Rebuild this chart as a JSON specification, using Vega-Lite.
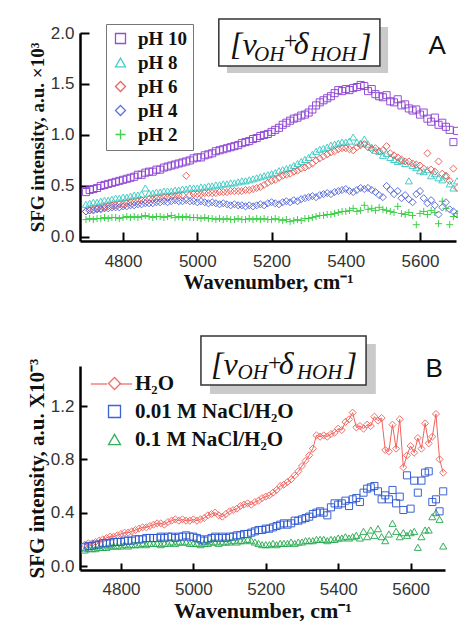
{
  "$schema": "https://vega.github.io/schema/vega-lite/v6.json",
  "padding": {"left": 26, "top": 18, "right": 0, "bottom": 0},
  "background": "white",
  "spacing": 43,
  "datasets": {
    "A": [
      {"x":4700,"a":0.44,"b":0.32,"c":0.25,"d":0.25,"e":0.17},
      {"x":4710,"a":0.46,"b":0.33,"c":0.26,"d":0.26,"e":0.18},
      {"x":4720,"a":0.47,"b":0.34,"c":0.27,"d":0.26,"e":0.17},
      {"x":4730,"a":0.48,"b":0.34,"c":0.28,"d":0.27,"e":0.18},
      {"x":4740,"a":0.50,"b":0.35,"c":0.28,"d":0.27,"e":0.18},
      {"x":4750,"a":0.51,"b":0.36,"c":0.29,"d":0.28,"e":0.19},
      {"x":4760,"a":0.52,"b":0.36,"c":0.30,"d":0.28,"e":0.18},
      {"x":4770,"a":0.53,"b":0.37,"c":0.31,"d":0.29,"e":0.19},
      {"x":4780,"a":0.54,"b":0.38,"c":0.31,"d":0.29,"e":0.19},
      {"x":4790,"a":0.55,"b":0.38,"c":0.32,"d":0.29,"e":0.18},
      {"x":4800,"a":0.56,"b":0.39,"c":0.32,"d":0.30,"e":0.19},
      {"x":4810,"a":0.57,"b":0.39,"c":0.33,"d":0.30,"e":0.20},
      {"x":4820,"a":0.58,"b":0.40,"c":0.34,"d":0.31,"e":0.19},
      {"x":4830,"a":0.59,"b":0.41,"c":0.34,"d":0.31,"e":0.20},
      {"x":4840,"a":0.61,"b":0.41,"c":0.35,"d":0.32,"e":0.19},
      {"x":4850,"a":0.61,"b":0.42,"c":0.36,"d":0.32,"e":0.20},
      {"x":4860,"a":0.63,"b":0.48,"c":0.36,"d":0.33,"e":0.21},
      {"x":4870,"a":0.64,"b":0.43,"c":0.37,"d":0.33,"e":0.20},
      {"x":4880,"a":0.64,"b":0.43,"c":0.37,"d":0.33,"e":0.19},
      {"x":4890,"a":0.66,"b":0.44,"c":0.38,"d":0.34,"e":0.20},
      {"x":4900,"a":0.66,"b":0.44,"c":0.38,"d":0.34,"e":0.20},
      {"x":4910,"a":0.68,"b":0.45,"c":0.39,"d":0.35,"e":0.19},
      {"x":4920,"a":0.69,"b":0.45,"c":0.39,"d":0.34,"e":0.20},
      {"x":4930,"a":0.70,"b":0.45,"c":0.40,"d":0.35,"e":0.21},
      {"x":4940,"a":0.71,"b":0.46,"c":0.40,"d":0.36,"e":0.19},
      {"x":4950,"a":0.72,"b":0.46,"c":0.41,"d":0.35,"e":0.20},
      {"x":4960,"a":0.73,"b":0.47,"c":0.41,"d":0.35,"e":0.19},
      {"x":4970,"a":0.74,"b":0.47,"c":0.60,"d":0.36,"e":0.20},
      {"x":4980,"a":0.75,"b":0.48,"c":0.41,"d":0.35,"e":0.19},
      {"x":4990,"a":0.77,"b":0.48,"c":0.42,"d":0.35,"e":0.19},
      {"x":5000,"a":0.78,"b":0.48,"c":0.42,"d":0.34,"e":0.19},
      {"x":5010,"a":0.78,"b":0.49,"c":0.42,"d":0.35,"e":0.18},
      {"x":5020,"a":0.80,"b":0.49,"c":0.43,"d":0.34,"e":0.19},
      {"x":5030,"a":0.81,"b":0.50,"c":0.43,"d":0.33,"e":0.18},
      {"x":5040,"a":0.82,"b":0.50,"c":0.43,"d":0.34,"e":0.18},
      {"x":5050,"a":0.84,"b":0.51,"c":0.43,"d":0.33,"e":0.17},
      {"x":5060,"a":0.85,"b":0.51,"c":0.44,"d":0.32,"e":0.18},
      {"x":5070,"a":0.86,"b":0.52,"c":0.44,"d":0.33,"e":0.17},
      {"x":5080,"a":0.87,"b":0.52,"c":0.44,"d":0.32,"e":0.18},
      {"x":5090,"a":0.88,"b":0.53,"c":0.45,"d":0.31,"e":0.17},
      {"x":5100,"a":0.89,"b":0.53,"c":0.45,"d":0.32,"e":0.17},
      {"x":5110,"a":0.90,"b":0.54,"c":0.45,"d":0.31,"e":0.18},
      {"x":5120,"a":0.92,"b":0.55,"c":0.45,"d":0.31,"e":0.17},
      {"x":5130,"a":0.93,"b":0.55,"c":0.46,"d":0.30,"e":0.17},
      {"x":5140,"a":0.94,"b":0.56,"c":0.46,"d":0.31,"e":0.18},
      {"x":5150,"a":0.96,"b":0.57,"c":0.47,"d":0.30,"e":0.17},
      {"x":5160,"a":0.97,"b":0.58,"c":0.48,"d":0.31,"e":0.18},
      {"x":5170,"a":0.99,"b":0.59,"c":0.49,"d":0.32,"e":0.17},
      {"x":5180,"a":1.00,"b":0.60,"c":0.51,"d":0.31,"e":0.18},
      {"x":5190,"a":1.01,"b":0.61,"c":0.53,"d":0.33,"e":0.17},
      {"x":5200,"a":1.03,"b":0.62,"c":0.55,"d":0.34,"e":0.17},
      {"x":5210,"a":1.05,"b":0.63,"c":0.56,"d":0.33,"e":0.18},
      {"x":5220,"a":1.07,"b":0.65,"c":0.58,"d":0.32,"e":0.17},
      {"x":5230,"a":1.10,"b":0.66,"c":0.60,"d":0.34,"e":0.16},
      {"x":5240,"a":1.12,"b":0.67,"c":0.61,"d":0.35,"e":0.17},
      {"x":5250,"a":1.14,"b":0.68,"c":0.62,"d":0.34,"e":0.15},
      {"x":5260,"a":1.16,"b":0.70,"c":0.64,"d":0.36,"e":0.16},
      {"x":5270,"a":1.17,"b":0.72,"c":0.65,"d":0.35,"e":0.17},
      {"x":5280,"a":1.19,"b":0.74,"c":0.67,"d":0.37,"e":0.16},
      {"x":5290,"a":1.20,"b":0.76,"c":0.68,"d":0.38,"e":0.18},
      {"x":5300,"a":1.22,"b":0.78,"c":0.70,"d":0.39,"e":0.18},
      {"x":5310,"a":1.25,"b":0.81,"c":0.72,"d":0.40,"e":0.19},
      {"x":5320,"a":1.29,"b":0.84,"c":0.75,"d":0.39,"e":0.20},
      {"x":5330,"a":1.32,"b":0.86,"c":0.77,"d":0.41,"e":0.21},
      {"x":5340,"a":1.34,"b":0.87,"c":0.79,"d":0.42,"e":0.21},
      {"x":5350,"a":1.36,"b":0.88,"c":0.81,"d":0.43,"e":0.22},
      {"x":5360,"a":1.38,"b":0.90,"c":0.83,"d":0.42,"e":0.22},
      {"x":5370,"a":1.41,"b":0.91,"c":0.84,"d":0.44,"e":0.23},
      {"x":5380,"a":1.44,"b":0.92,"c":0.86,"d":0.45,"e":0.24},
      {"x":5390,"a":1.43,"b":0.93,"c":0.87,"d":0.46,"e":0.25},
      {"x":5400,"a":1.45,"b":0.93,"c":0.87,"d":0.47,"e":0.25},
      {"x":5410,"a":1.44,"b":0.94,"c":0.86,"d":0.45,"e":0.26},
      {"x":5420,"a":1.46,"b":0.98,"c":0.85,"d":0.44,"e":0.28},
      {"x":5430,"a":1.47,"b":0.93,"c":0.88,"d":0.46,"e":0.25},
      {"x":5440,"a":1.49,"b":0.92,"c":0.90,"d":0.48,"e":0.26},
      {"x":5450,"a":1.48,"b":0.96,"c":0.91,"d":0.47,"e":0.31},
      {"x":5460,"a":1.43,"b":0.91,"c":0.88,"d":0.48,"e":0.27},
      {"x":5470,"a":1.45,"b":0.88,"c":0.86,"d":0.46,"e":0.28},
      {"x":5480,"a":1.40,"b":0.85,"c":0.87,"d":0.44,"e":0.26},
      {"x":5490,"a":1.38,"b":0.84,"c":0.84,"d":0.41,"e":0.29},
      {"x":5500,"a":1.37,"b":0.80,"c":0.85,"d":0.39,"e":0.27},
      {"x":5510,"a":1.39,"b":0.82,"c":0.89,"d":0.50,"e":0.26},
      {"x":5520,"a":1.33,"b":0.78,"c":0.82,"d":0.46,"e":0.25},
      {"x":5530,"a":1.32,"b":0.76,"c":0.80,"d":0.42,"e":0.24},
      {"x":5540,"a":1.35,"b":0.74,"c":0.78,"d":0.45,"e":0.30},
      {"x":5550,"a":1.29,"b":0.75,"c":0.76,"d":0.38,"e":0.23},
      {"x":5560,"a":1.30,"b":0.72,"c":0.74,"d":0.41,"e":0.22},
      {"x":5570,"a":1.26,"b":0.55,"c":0.74,"d":0.37,"e":0.24},
      {"x":5580,"a":1.24,"b":0.70,"c":0.72,"d":0.34,"e":0.21},
      {"x":5590,"a":1.25,"b":0.68,"c":0.71,"d":0.42,"e":0.12},
      {"x":5600,"a":1.20,"b":0.65,"c":0.70,"d":0.45,"e":0.23},
      {"x":5610,"a":1.22,"b":0.64,"c":0.67,"d":0.38,"e":0.25},
      {"x":5620,"a":1.16,"b":0.66,"c":0.82,"d":0.33,"e":0.22},
      {"x":5630,"a":1.13,"b":0.60,"c":0.66,"d":0.36,"e":0.26},
      {"x":5640,"a":1.17,"b":0.62,"c":0.64,"d":0.31,"e":0.24},
      {"x":5650,"a":1.10,"b":0.58,"c":0.74,"d":0.22,"e":0.13},
      {"x":5660,"a":1.12,"b":0.56,"c":0.62,"d":0.29,"e":0.35},
      {"x":5670,"a":1.08,"b":0.60,"c":0.60,"d":0.34,"e":0.28},
      {"x":5680,"a":1.05,"b":0.52,"c":0.55,"d":0.27,"e":0.12},
      {"x":5690,"a":0.93,"b":0.48,"c":0.67,"d":0.25,"e":0.20},
      {"x":5700,"a":1.04,"b":0.55,"c":0.48,"d":0.22,"e":0.23}
    ],
    "B": [
      {"x":4700,"w":0.16,"a":0.14,"b":0.12},
      {"x":4710,"w":0.17,"a":0.15,"b":0.13},
      {"x":4720,"w":0.17,"a":0.15,"b":0.13},
      {"x":4730,"w":0.18,"a":0.16,"b":0.13},
      {"x":4740,"w":0.19,"a":0.16,"b":0.14},
      {"x":4750,"w":0.20,"a":0.17,"b":0.14},
      {"x":4760,"w":0.21,"a":0.17,"b":0.14},
      {"x":4770,"w":0.22,"a":0.17,"b":0.15},
      {"x":4780,"w":0.22,"a":0.18,"b":0.15},
      {"x":4790,"w":0.23,"a":0.18,"b":0.15},
      {"x":4800,"w":0.24,"a":0.18,"b":0.15},
      {"x":4810,"w":0.25,"a":0.19,"b":0.16},
      {"x":4820,"w":0.25,"a":0.19,"b":0.15},
      {"x":4830,"w":0.26,"a":0.19,"b":0.16},
      {"x":4840,"w":0.27,"a":0.20,"b":0.16},
      {"x":4850,"w":0.28,"a":0.20,"b":0.16},
      {"x":4860,"w":0.29,"a":0.20,"b":0.17},
      {"x":4870,"w":0.29,"a":0.21,"b":0.16},
      {"x":4880,"w":0.30,"a":0.21,"b":0.17},
      {"x":4890,"w":0.31,"a":0.21,"b":0.17},
      {"x":4900,"w":0.32,"a":0.21,"b":0.17},
      {"x":4910,"w":0.32,"a":0.22,"b":0.16},
      {"x":4920,"w":0.31,"a":0.21,"b":0.17},
      {"x":4930,"w":0.33,"a":0.22,"b":0.17},
      {"x":4940,"w":0.34,"a":0.22,"b":0.18},
      {"x":4950,"w":0.35,"a":0.21,"b":0.17},
      {"x":4960,"w":0.34,"a":0.22,"b":0.18},
      {"x":4970,"w":0.35,"a":0.22,"b":0.18},
      {"x":4980,"w":0.34,"a":0.23,"b":0.18},
      {"x":4990,"w":0.34,"a":0.22,"b":0.17},
      {"x":5000,"w":0.35,"a":0.22,"b":0.17},
      {"x":5010,"w":0.34,"a":0.21,"b":0.17},
      {"x":5020,"w":0.35,"a":0.20,"b":0.16},
      {"x":5030,"w":0.36,"a":0.19,"b":0.17},
      {"x":5040,"w":0.38,"a":0.20,"b":0.17},
      {"x":5050,"w":0.39,"a":0.21,"b":0.18},
      {"x":5060,"w":0.40,"a":0.22,"b":0.18},
      {"x":5070,"w":0.38,"a":0.21,"b":0.17},
      {"x":5080,"w":0.37,"a":0.22,"b":0.18},
      {"x":5090,"w":0.39,"a":0.21,"b":0.18},
      {"x":5100,"w":0.41,"a":0.22,"b":0.18},
      {"x":5110,"w":0.42,"a":0.22,"b":0.19},
      {"x":5120,"w":0.43,"a":0.23,"b":0.18},
      {"x":5130,"w":0.45,"a":0.23,"b":0.19},
      {"x":5140,"w":0.46,"a":0.24,"b":0.19},
      {"x":5150,"w":0.47,"a":0.24,"b":0.20},
      {"x":5160,"w":0.46,"a":0.25,"b":0.19},
      {"x":5170,"w":0.48,"a":0.26,"b":0.18},
      {"x":5180,"w":0.49,"a":0.27,"b":0.17},
      {"x":5190,"w":0.51,"a":0.27,"b":0.16},
      {"x":5200,"w":0.52,"a":0.28,"b":0.16},
      {"x":5210,"w":0.53,"a":0.28,"b":0.16},
      {"x":5220,"w":0.55,"a":0.29,"b":0.17},
      {"x":5230,"w":0.57,"a":0.30,"b":0.16},
      {"x":5240,"w":0.60,"a":0.31,"b":0.17},
      {"x":5250,"w":0.61,"a":0.32,"b":0.17},
      {"x":5260,"w":0.63,"a":0.31,"b":0.17},
      {"x":5270,"w":0.65,"a":0.32,"b":0.18},
      {"x":5280,"w":0.68,"a":0.34,"b":0.17},
      {"x":5290,"w":0.71,"a":0.34,"b":0.18},
      {"x":5300,"w":0.75,"a":0.35,"b":0.18},
      {"x":5310,"w":0.79,"a":0.36,"b":0.19},
      {"x":5320,"w":0.83,"a":0.37,"b":0.19},
      {"x":5330,"w":0.88,"a":0.39,"b":0.19},
      {"x":5340,"w":0.98,"a":0.40,"b":0.20},
      {"x":5350,"w":0.97,"a":0.41,"b":0.20},
      {"x":5360,"w":0.98,"a":0.40,"b":0.20},
      {"x":5370,"w":0.97,"a":0.38,"b":0.19},
      {"x":5380,"w":0.99,"a":0.44,"b":0.20},
      {"x":5390,"w":1.00,"a":0.47,"b":0.20},
      {"x":5400,"w":1.03,"a":0.46,"b":0.21},
      {"x":5410,"w":1.02,"a":0.47,"b":0.21},
      {"x":5420,"w":1.08,"a":0.49,"b":0.22},
      {"x":5430,"w":1.10,"a":0.45,"b":0.21},
      {"x":5440,"w":1.15,"a":0.50,"b":0.22},
      {"x":5450,"w":1.04,"a":0.51,"b":0.23},
      {"x":5460,"w":1.05,"a":0.48,"b":0.21},
      {"x":5470,"w":1.03,"a":0.55,"b":0.26},
      {"x":5480,"w":1.06,"a":0.58,"b":0.22},
      {"x":5490,"w":1.05,"a":0.59,"b":0.27},
      {"x":5500,"w":1.12,"a":0.60,"b":0.23},
      {"x":5510,"w":1.09,"a":0.56,"b":0.28},
      {"x":5520,"w":1.11,"a":0.50,"b":0.22},
      {"x":5530,"w":0.87,"a":0.53,"b":0.19},
      {"x":5540,"w":0.86,"a":0.50,"b":0.24},
      {"x":5550,"w":1.06,"a":0.57,"b":0.32},
      {"x":5560,"w":0.88,"a":0.47,"b":0.26},
      {"x":5570,"w":1.10,"a":0.52,"b":0.22},
      {"x":5580,"w":0.74,"a":0.42,"b":0.25},
      {"x":5590,"w":0.83,"a":0.68,"b":0.23},
      {"x":5600,"w":0.90,"a":0.43,"b":0.25},
      {"x":5610,"w":0.85,"a":0.64,"b":0.26},
      {"x":5620,"w":0.96,"a":0.55,"b":0.14},
      {"x":5630,"w":0.88,"a":0.64,"b":0.22},
      {"x":5640,"w":1.07,"a":0.70,"b":0.27},
      {"x":5650,"w":0.92,"a":0.71,"b":0.27},
      {"x":5660,"w":0.97,"a":0.48,"b":0.37},
      {"x":5670,"w":1.14,"a":0.50,"b":0.40},
      {"x":5680,"w":0.80,"a":0.41,"b":0.35},
      {"x":5690,"w":0.70,"a":0.56,"b":0.15}
    ]
  },
  "vconcat": [
    {
      "width": 376,
      "height": 208,
      "layer": [
        {
          "data": {"name": "A"},
          "transform": [{"fold": ["a", "b", "c", "d", "e"], "as": ["s", "y"]}],
          "mark": {"type": "point", "filled": false, "strokeWidth": 1, "size": 50, "opacity": 0.9},
          "encoding": {
            "x": {"field": "x", "type": "quantitative",
              "scale": {"domain": [4684, 5697], "nice": false, "zero": false},
              "axis": {"values": [4800, 5000, 5200, 5400, 5600], "format": "d", "tickSize": -9, "labelPadding": 21, "title": "Wavenumber, cm⁻¹", "titleFontSize": 21, "titlePadding": 2}},
            "y": {"field": "y", "type": "quantitative",
              "scale": {"domain": [-0.04, 2.0], "nice": false, "zero": false},
              "axis": {"values": [0, 0.5, 1, 1.5, 2], "format": ".1f", "tickSize": -9, "labelPadding": 15, "title": "SFG intensity, a.u. ×10³", "titleFontSize": 19, "titlePadding": 3}},
            "color": {"field": "s", "type": "nominal",
              "scale": {"domain": ["a", "b", "c", "d", "e"], "range": ["#8a3dd2", "#33c9c3", "#e8544e", "#4d62dc", "#2ecb3a"]},
              "legend": {"orient": "none", "legendX": 26, "legendY": -9, "title": null, "labelExpr": "datum.label=='a'?'pH 10':datum.label=='b'?'pH 8':datum.label=='c'?'pH 6':datum.label=='d'?'pH 4':'pH 2'", "labelFont": "Liberation Serif", "labelFontWeight": "bold", "labelFontSize": 19, "labelColor": "#111", "symbolSize": 100, "symbolStrokeWidth": 1.3, "rowPadding": 4, "labelOffset": 8, "padding": 5, "strokeColor": "#777", "fillColor": "white"}},
            "shape": {"field": "s", "type": "nominal",
              "scale": {"domain": ["a", "b", "c", "d", "e"], "range": ["square", "triangle-up", "diamond", "diamond", "M-1,0H1M0,-1V1"]},
              "legend": {"orient": "none", "legendX": 26, "legendY": -9, "title": null, "labelExpr": "datum.label=='a'?'pH 10':datum.label=='b'?'pH 8':datum.label=='c'?'pH 6':datum.label=='d'?'pH 4':'pH 2'", "labelFont": "Liberation Serif", "labelFontWeight": "bold", "labelFontSize": 19, "labelColor": "#111", "symbolSize": 100, "symbolStrokeWidth": 1.3, "rowPadding": 4, "labelOffset": 8, "padding": 5, "strokeColor": "#777", "fillColor": "white"}}
          }
        },
        {
          "data": {"values": [{}]},
          "mark": {"type": "rect", "fill": "#bdbdbd", "opacity": 0.8},
          "encoding": {"x": {"datum": 5080}, "x2": {"datum": 5514}, "y": {"datum": 2.059}, "y2": {"datum": 1.608}}
        },
        {
          "data": {"values": [{}]},
          "mark": {"type": "rect", "fill": "white", "stroke": "#333", "strokeWidth": 1.5},
          "encoding": {"x": {"datum": 5058}, "x2": {"datum": 5492}, "y": {"datum": 2.137}, "y2": {"datum": 1.676}}
        },
        {
          "data": {"values": [{}]},
          "mark": {"type": "text", "text": "[ν", "font": "Liberation Serif", "fontStyle": "italic", "fontSize": 32, "align": "left", "baseline": "alphabetic", "color": "#111"},
          "encoding": {"x": {"datum": 5088}, "y": {"datum": 1.784}}
        },
        {
          "data": {"values": [{}]},
          "mark": {"type": "text", "text": "OH", "font": "Liberation Serif", "fontStyle": "italic", "fontSize": 21, "align": "left", "baseline": "alphabetic", "color": "#111"},
          "encoding": {"x": {"datum": 5153}, "y": {"datum": 1.725}}
        },
        {
          "data": {"values": [{}]},
          "mark": {"type": "text", "text": "+", "font": "Liberation Serif", "fontSize": 24, "align": "left", "baseline": "alphabetic", "color": "#111"},
          "encoding": {"x": {"datum": 5233}, "y": {"datum": 1.855}}
        },
        {
          "data": {"values": [{}]},
          "mark": {"type": "text", "text": "δ", "font": "Liberation Serif", "fontStyle": "italic", "fontSize": 32, "align": "left", "baseline": "alphabetic", "color": "#111"},
          "encoding": {"x": {"datum": 5260}, "y": {"datum": 1.794}}
        },
        {
          "data": {"values": [{}]},
          "mark": {"type": "text", "text": "HOH", "font": "Liberation Serif", "fontStyle": "italic", "fontSize": 21, "align": "left", "baseline": "alphabetic", "color": "#111"},
          "encoding": {"x": {"datum": 5306}, "y": {"datum": 1.725}}
        },
        {
          "data": {"values": [{}]},
          "mark": {"type": "text", "text": "]", "font": "Liberation Serif", "fontStyle": "italic", "fontSize": 32, "align": "left", "baseline": "alphabetic", "color": "#111"},
          "encoding": {"x": {"datum": 5436}, "y": {"datum": 1.774}}
        },
        {
          "data": {"values": [{}]},
          "mark": {"type": "text", "text": "A", "font": "Liberation Sans", "fontSize": 26, "align": "center", "baseline": "alphabetic", "color": "#111"},
          "encoding": {"x": {"datum": 5646}, "y": {"datum": 1.794}}
        }
      ]
    },
    {
      "width": 365,
      "height": 204,
      "layer": [
        {
          "data": {"name": "B"},
          "mark": {"type": "line", "color": "#f2615b", "strokeWidth": 1},
          "encoding": {
            "x": {"field": "x", "type": "quantitative"},
            "y": {"field": "w", "type": "quantitative"}
          }
        },
        {
          "data": {"values": [{}]},
          "mark": {"type": "rule", "color": "#f2615b", "strokeWidth": 1.2},
          "encoding": {"x": {"datum": 4717}, "x2": {"datum": 4762}, "y": {"datum": 1.365}}
        },
        {
          "data": {"values": [{}]},
          "mark": {"type": "rule", "color": "#f2615b", "strokeWidth": 1.2},
          "encoding": {"x": {"datum": 4795}, "x2": {"datum": 4831}, "y": {"datum": 1.365}}
        },
        {
          "data": {"name": "B"},
          "transform": [{"fold": ["w", "a", "b"], "as": ["s", "y"]}],
          "mark": {"type": "point", "filled": false, "strokeWidth": 1, "size": 50, "opacity": 0.9},
          "encoding": {
            "x": {"field": "x", "type": "quantitative",
              "scale": {"domain": [4687, 5695], "nice": false, "zero": false},
              "axis": {"values": [4800, 5000, 5200, 5400, 5600], "format": "d", "tickSize": -7, "labelPadding": 18, "title": "Wavenumber, cm⁻¹", "titleFontSize": 22, "titlePadding": 3}},
            "y": {"field": "y", "type": "quantitative",
              "scale": {"domain": [-0.03, 1.5], "nice": false, "zero": false},
              "axis": {"values": [0, 0.2, 0.4, 0.6, 0.8, 1.0, 1.2, 1.4], "labelExpr": "round(datum.value*10) % 4 == 0 ? format(datum.value, '.1f') : ''", "tickSize": {"condition": {"test": "round(datum.value*10) % 4 == 0", "value": -7}, "value": -4}, "labelPadding": 13, "title": "SFG intensity, a.u. X10⁻³", "titleFontSize": 21, "titlePadding": 3}},
            "color": {"field": "s", "type": "nominal",
              "scale": {"domain": ["w", "a", "b"], "range": ["#f2615b", "#2853cf", "#1fa84a"]},
              "legend": {"orient": "none", "legendX": 24, "legendY": 7, "title": null, "labelExpr": "datum.label=='w'?'H₂O':datum.label=='a'?'0.01 M NaCl/H₂O':'0.1 M NaCl/H₂O'", "labelFont": "Liberation Serif", "labelFontWeight": "bold", "labelFontSize": 21, "labelColor": "#111", "symbolSize": 144, "symbolStrokeWidth": 1.3, "rowPadding": 6, "labelOffset": 10, "padding": 0}},
            "shape": {"field": "s", "type": "nominal",
              "scale": {"domain": ["w", "a", "b"], "range": ["diamond", "square", "triangle-up"]},
              "legend": {"orient": "none", "legendX": 24, "legendY": 7, "title": null, "labelExpr": "datum.label=='w'?'H₂O':datum.label=='a'?'0.01 M NaCl/H₂O':'0.1 M NaCl/H₂O'", "labelFont": "Liberation Serif", "labelFontWeight": "bold", "labelFontSize": 21, "labelColor": "#111", "symbolSize": 144, "symbolStrokeWidth": 1.3, "rowPadding": 6, "labelOffset": 10, "padding": 0}}
          }
        },
        {
          "data": {"values": [{}]},
          "mark": {"type": "rect", "fill": "#bdbdbd", "opacity": 0.8},
          "encoding": {"x": {"datum": 5046}, "x2": {"datum": 5504}, "y": {"datum": 1.665}, "y2": {"datum": 1.29}}
        },
        {
          "data": {"values": [{}]},
          "mark": {"type": "rect", "fill": "white", "stroke": "#333", "strokeWidth": 1.5},
          "encoding": {"x": {"datum": 5021}, "x2": {"datum": 5477}, "y": {"datum": 1.725}, "y2": {"datum": 1.3575}}
        },
        {
          "data": {"values": [{}]},
          "mark": {"type": "text", "text": "[ν", "font": "Liberation Serif", "fontStyle": "italic", "fontSize": 32, "align": "left", "baseline": "alphabetic", "color": "#111"},
          "encoding": {"x": {"datum": 5049}, "y": {"datum": 1.4325}}
        },
        {
          "data": {"values": [{}]},
          "mark": {"type": "text", "text": "OH", "font": "Liberation Serif", "fontStyle": "italic", "fontSize": 21, "align": "left", "baseline": "alphabetic", "color": "#111"},
          "encoding": {"x": {"datum": 5122}, "y": {"datum": 1.4025}}
        },
        {
          "data": {"values": [{}]},
          "mark": {"type": "text", "text": "+", "font": "Liberation Serif", "fontSize": 24, "align": "left", "baseline": "alphabetic", "color": "#111"},
          "encoding": {"x": {"datum": 5206}, "y": {"datum": 1.47}}
        },
        {
          "data": {"values": [{}]},
          "mark": {"type": "text", "text": "δ", "font": "Liberation Serif", "fontStyle": "italic", "fontSize": 32, "align": "left", "baseline": "alphabetic", "color": "#111"},
          "encoding": {"x": {"datum": 5236}, "y": {"datum": 1.44}}
        },
        {
          "data": {"values": [{}]},
          "mark": {"type": "text", "text": "HOH", "font": "Liberation Serif", "fontStyle": "italic", "fontSize": 21, "align": "left", "baseline": "alphabetic", "color": "#111"},
          "encoding": {"x": {"datum": 5286}, "y": {"datum": 1.4025}}
        },
        {
          "data": {"values": [{}]},
          "mark": {"type": "text", "text": "]", "font": "Liberation Serif", "fontStyle": "italic", "fontSize": 32, "align": "left", "baseline": "alphabetic", "color": "#111"},
          "encoding": {"x": {"datum": 5418}, "y": {"datum": 1.4325}}
        },
        {
          "data": {"values": [{}]},
          "mark": {"type": "text", "text": "B", "font": "Liberation Sans", "fontSize": 26, "align": "center", "baseline": "alphabetic", "color": "#111"},
          "encoding": {"x": {"datum": 5665}, "y": {"datum": 1.4175}}
        }
      ]
    }
  ],
  "resolve": {
    "scale": {"x": "independent", "y": "independent", "color": "independent", "shape": "independent"},
    "legend": {"color": "independent", "shape": "independent"}
  },
  "config": {
    "view": {"stroke": null},
    "axis": {"grid": false, "domainColor": "#000", "domainWidth": 2.5, "tickColor": "#000", "tickWidth": 2, "labelFont": "Liberation Sans", "labelFontSize": 17, "labelColor": "#333", "titleFont": "Liberation Serif", "titleFontWeight": "bold", "titleColor": "#111", "labelFlush": false, "labelBound": false}
  }
}
